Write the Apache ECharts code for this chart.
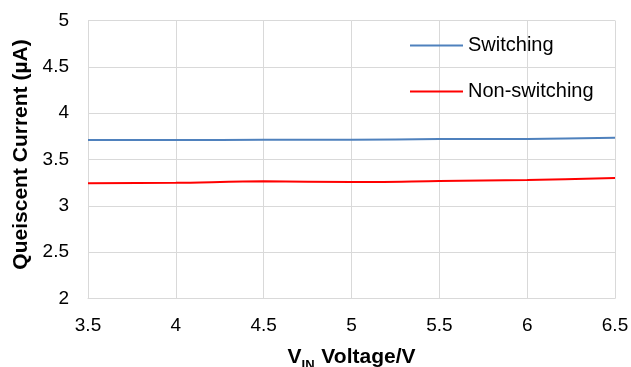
<!DOCTYPE html>
<html><head><meta charset="utf-8">
<script src="https://cdn.jsdelivr.net/npm/echarts@6/dist/echarts.min.js"></script>
<style>html,body{margin:0;padding:0;background:#fff}#c{width:631px;height:367px}</style>
</head><body><div id="c"></div>
<script>
const vin = [3.5, 4, 4.5, 5, 5.5, 6, 6.5];
const switching = [3.71, 3.71, 3.712, 3.713, 3.72, 3.722, 3.735];
const nonSwitching = [3.243, 3.248, 3.264, 3.256, 3.268, 3.28, 3.30];
const xTicks = ['3.5','4','4.5','5','5.5','6','6.5'];
const yTicks = ['2','2.5','3','3.5','4','4.5','5'];

const chart = echarts.init(document.getElementById('c'), null, {renderer:'canvas'});
const font = 'Liberation Sans, Arial, sans-serif';
chart.setOption({
  animation:false,
  grid:{left:88, right:16, top:20.5, bottom:68.5, containLabel:false, outerBoundsMode:'none'},
  legend:{
    orient:'vertical', left:410, top:35, itemGap:25, padding:0,
    itemWidth:53, itemHeight:2, icon:'rect', itemTextGap:6,
    textStyle:{fontFamily:font, fontSize:20, lineHeight:21, color:'#000'},
    data:['Switching','Non-switching']
  },
  xAxis:{
    type:'value', min:3.5, max:6.5, interval:0.5,
    name:'{v|V}{s|IN}{v| Voltage/V}', nameLocation:'middle', nameGap:48,
    nameTextStyle:{rich:{
      v:{fontFamily:font, fontSize:21, fontWeight:'bold', color:'#000', verticalAlign:'bottom'},
      s:{fontFamily:font, fontSize:13, fontWeight:'bold', color:'#000', verticalAlign:'bottom', padding:[0,1,-4,0]}
    }},
    axisLine:{show:true, lineStyle:{color:'#d9d9d9'}},
    axisTick:{show:false},
    splitLine:{show:true, lineStyle:{color:'#d9d9d9', width:1}},
    axisLabel:{fontFamily:font, fontSize:19, color:'#000', margin:18,
      formatter:(v)=>xTicks[Math.round((v-3.5)/0.5)]}
  },
  yAxis:{
    type:'value', min:2, max:5, interval:0.5,
    name:'Queiscent Current (µA)', nameLocation:'middle', nameGap:55,
    nameTextStyle:{fontFamily:font, fontSize:21, fontWeight:'bold', color:'#000', padding:[0,0,0,10]},
    axisLine:{show:true, lineStyle:{color:'#d9d9d9'}},
    axisTick:{show:false},
    splitLine:{show:true, lineStyle:{color:'#d9d9d9', width:1}},
    axisLabel:{fontFamily:font, fontSize:19, color:'#000', margin:19,
      formatter:(v)=>yTicks[Math.round((v-2)/0.5)]}
  },
  series:[
    {name:'Switching', type:'line', data:vin.map((x,i)=>[x,switching[i]]),
     smooth:0.3, showSymbol:false, symbol:'none', lineStyle:{color:'#4f81bd', width:2}, itemStyle:{color:'#4f81bd'}},
    {name:'Non-switching', type:'line', data:vin.map((x,i)=>[x,nonSwitching[i]]),
     smooth:0.3, showSymbol:false, symbol:'none', lineStyle:{color:'#ff0000', width:2}, itemStyle:{color:'#ff0000'}}
  ]
});
</script></body></html>
